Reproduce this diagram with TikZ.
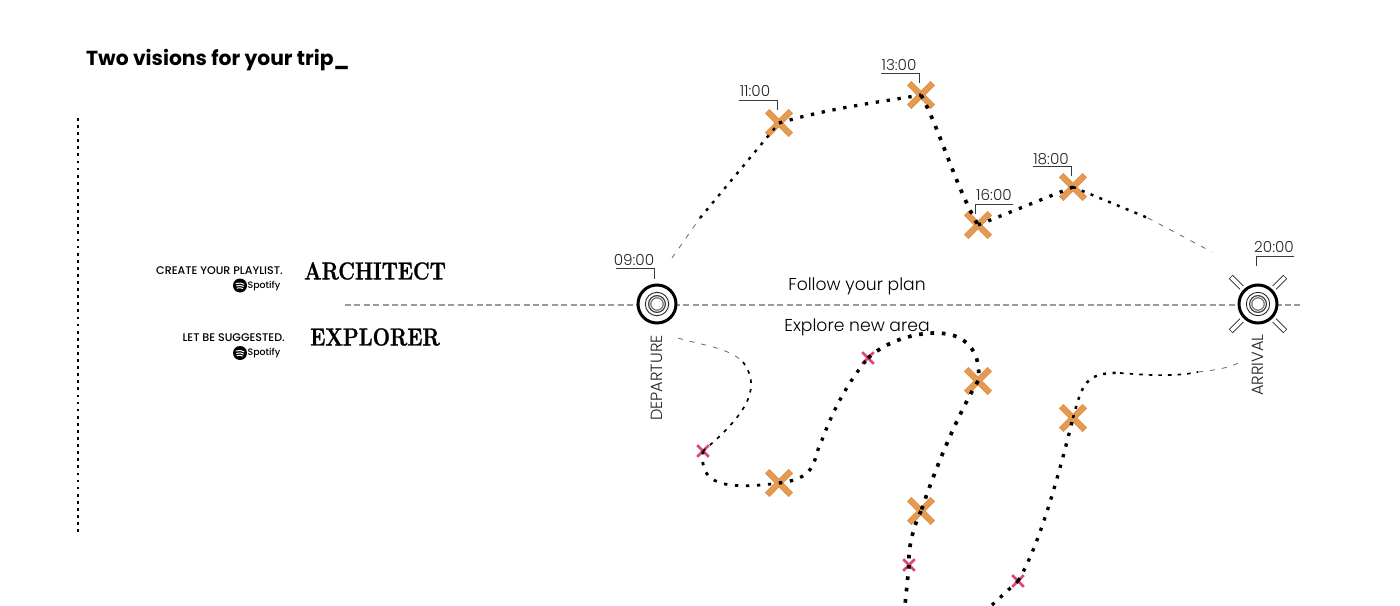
\documentclass[tikz,border=0pt]{standalone}
\usepackage{fontspec}
\newfontfamily\pop{Poppins}
\newfontfamily\popl{Poppins Light}
\newfontfamily\popm{Poppins Medium}
\newfontfamily\didone[BoldFeatures={FakeBold=1.2}]{Latin Modern Roman}
\usetikzlibrary{calc}
\definecolor{orangex}{HTML}{E59A52}
\definecolor{orangeedge}{HTML}{D98A3C}
\definecolor{pinkx}{HTML}{E0437C}
\definecolor{guide}{HTML}{9A9A9A}
\definecolor{tick}{HTML}{3A3A3A}
\tikzset{
  x=1pt,y=-1pt,
  thin route/.style={draw=black!60,line width=.8pt,dash pattern=on 5pt off 7pt},
  mid route/.style={draw=black,line width=1.7pt,dash pattern=on 3.6pt off 6pt},
  bold route/.style={draw=black,line width=3.3pt,dash pattern=on 3.3pt off 7.7pt},
  heavy route/.style={draw=black,line width=3.7pt,dash pattern=on 3.7pt off 7.7pt},
  timeline/.style={draw=tick,line width=.9pt},
  timetext/.style={font=\popl\fontsize{15.2}{16}\selectfont,text=black!85,inner sep=0pt},
  maintext/.style={font=\popl\fontsize{17.2}{18}\selectfont,inner sep=0pt},
  sidetext/.style={font=\popl\fontsize{16.2}{17}\selectfont,text=black!85,rotate=90,inner sep=0pt},
  captext/.style={font=\popm\fontsize{11.1}{12}\selectfont,anchor=east,inner sep=0pt},
  bigtext/.style={font=\didone\bfseries\fontsize{24.5}{26}\selectfont,inner sep=0pt},
  spotname/.style={font=\popm\fontsize{9.4}{10}\selectfont,anchor=west,inner sep=0pt},
}
\newcommand{\stopx}[2]{% orange cross named #1
  \coordinate (#1) at #2;
  \draw[orangeedge,line width=6.2pt] ($(#1)+(-11.8,-11.8)$)--($(#1)+(11.8,11.8)$) ($(#1)+(-11.8,11.8)$)--($(#1)+(11.8,-11.8)$);
  \draw[orangex,line width=5pt] ($(#1)+(-11.4,-11.4)$)--($(#1)+(11.4,11.4)$) ($(#1)+(-11.4,11.4)$)--($(#1)+(11.4,-11.4)$);
}
\newcommand{\pinkx}[2]{%
  \coordinate (#1) at #2;
  \draw[pinkx,line width=2.6pt] ($(#1)+(-5.8,-5.8)$)--($(#1)+(5.8,5.8)$) ($(#1)+(-5.8,5.8)$)--($(#1)+(5.8,-5.8)$);
}
\newcommand{\hub}[2]{%
  \node[circle,draw=black,fill=white,line width=3pt,minimum size=38pt,inner sep=0pt] (#1) at #2 {};
  \draw[black!85,line width=.9pt] (#1.center) circle (11.7);
  \draw[black!75,line width=1.2pt] (#1.center) circle (8.4);
  \draw[black!50,line width=1.3pt] (#1.center) circle (6.2);
}
\newcommand{\spot}[2]{%
  \node[circle,fill=black,minimum size=14pt,inner sep=0pt] (#1) at #2 {};
  \draw[white,line width=1pt,line cap=round]
    ($(#1.center)+(-4,-2)$) .. controls ($(#1.center)+(-1,-3)$) and ($(#1.center)+(2,-2.6)$) .. ($(#1.center)+(4,-1.2)$)
    ($(#1.center)+(-3.5,.4)$) .. controls ($(#1.center)+(-1,-.4)$) and ($(#1.center)+(1.5,-.2)$) .. ($(#1.center)+(3.4,.9)$)
    ($(#1.center)+(-3,2.6)$) .. controls ($(#1.center)+(-1,2)$) and ($(#1.center)+(1,2.2)$) .. ($(#1.center)+(2.8,3)$);
  \node[spotname] at ($(#1.center)+(7.4,.5)$) {Spotify};
}
\begin{document}
\begin{tikzpicture}
\useasboundingbox (0,0) rectangle (1400,605);
\clip (0,0) rectangle (1400,605);
\fill[white] (0,0) rectangle (1400,605);

% title
\node[font=\pop\bfseries\fontsize{20.3}{22}\selectfont,anchor=west,inner sep=0pt] (title) at (86,60) {Two visions for your trip\_};

% left rule
\coordinate (ruleT) at (78,118);
\coordinate (ruleB) at (78,533);
\draw[black,line width=2.8pt,dash pattern=on 2.8pt off 4.29pt] (ruleT)--(ruleB);

% main guide
\coordinate (gL) at (345,305);
\coordinate (gR) at (1301,305);
\draw[guide,line width=1.4pt,dash pattern=on 6pt off 3.4pt] (gL)--(gR);

% way points
\coordinate (tS) at (672,258);
\coordinate (t0) at (700,218);
\coordinate (t5) at (1148,218);
\coordinate (tE) at (1212,252);
\stopx{a}{(779,123)}
\stopx{b}{(921,95)}
\stopx{c}{(978,225)}
\stopx{d}{(1073,187)}
\stopx{e}{(779,483)}
\stopx{f}{(978,381)}
\stopx{g}{(921,511)}
\stopx{h}{(1073,418)}
\pinkx{p}{(703,451)}
\pinkx{q}{(868,358)}
\pinkx{r}{(909,565)}
\pinkx{s}{(1018,581)}

% upper route
\draw[thin route] (tS)--(t0);
\draw[mid route,line width=2.4pt,dash pattern=on 3pt off 6.5pt] (t0)--(a);
\draw[bold route] (a) .. controls (830,108) and (880,102) .. (b);
\draw[heavy route] (b) .. controls (940,130) and (955,185) .. (c);
\draw[bold route] (c)--(d);
\draw[mid route,line width=2.5pt,dash pattern=on 3pt off 6.5pt] (d)--(t5);
\draw[thin route] (t5)--(tE);

% lower route
\coordinate (lS) at (678,338);
\coordinate (l1) at (743,362);
\draw[thin route] (lS) .. controls (700,345) and (728,347) .. (l1);
\draw[mid route] (l1) .. controls (760,385) and (752,410) .. (p);
\draw[bold route,line width=2.8pt] (p) .. controls (700,478) and (712,492) .. (e);
\draw[bold route] (e) .. controls (820,478) and (812,458) .. (822,440)
   .. controls (835,405) and (850,380) .. (q);
\draw[heavy route] (q) .. controls (890,338) and (925,330) .. (947,334)
   .. controls (968,337) and (982,355) .. (f);
\draw[heavy route] (f) .. controls (955,420) and (935,470) .. (g);
\draw[heavy route] (g) .. controls (912,530) and (908,550) .. (r);
\coordinate (lB) at (905,605);
\draw[heavy route] (r)--(lB);
\coordinate (lC) at (992,605);
\draw[bold route] (lC)--(s);
\draw[bold route] (s) .. controls (1040,545) and (1060,470) .. (h);
\coordinate (l2) at (1120,373);
\coordinate (l3) at (1198,372);
\coordinate (lE) at (1240,362);
\draw[mid route,line width=2.5pt,dash pattern=on 3pt off 6.5pt] (h) .. controls (1082,385) and (1085,372) .. (l2);
\draw[mid route] (l2) .. controls (1145,375) and (1175,377) .. (l3);
\draw[thin route] (l3) .. controls (1215,370) and (1230,368) .. (lE);

% arrival rays
\foreach \ang in {45,135,225,315}{
  \draw[black!85,line width=5.4pt] ($(1258,304)+(\ang:23)$)--($(1258,304)+(\ang:38.5)$);
  \draw[white,line width=3.6pt] ($(1258,304)+(\ang:22)$)--($(1258,304)+(\ang:37.7)$);
}
\hub{dep}{(657,304)}
\hub{arr}{(1258,304)}

% times
\node[timetext] (n9) at (634,260) {09:00};
\node[timetext] (n11) at (755,91) {11:00};
\node[timetext] (n13) at (899,65) {13:00};
\node[timetext] (n16) at (994,195) {16:00};
\node[timetext] (n18) at (1051,159) {18:00};
\node[timetext] (n20) at (1274,247) {20:00};
\draw[timeline] (616,268)--(654,268)--(654,279);
\draw[timeline] (739,100)--(777,100)--(777,110);
\draw[timeline] (881,73)--(919,73)--(919,83);
\draw[timeline] (1013,204)--(975,204)--(975,214);
\draw[timeline] (1033,166)--(1071,166)--(1071,176);
\draw[timeline] (1294,256)--(1256,256)--(1256,266);

% labels
\node[sidetext] (ldep) at (657,378) {DEPARTURE};
\node[sidetext] (larr) at (1258,365) {ARRIVAL};
\node[maintext] (plan) at (857,286) {Follow your plan};
\node[maintext] (area) at (857,327) {Explore new area};

% left texts
\node[captext] (c1) at (283,270.5) {CREATE YOUR PLAYLIST.};
\node[captext] (c2) at (285,337.5) {LET BE SUGGESTED.};
\node[bigtext] (arch) at (375,271) {\scalebox{.84}[1]{ARCHITECT}};
\node[bigtext] (expl) at (375,337) {\scalebox{.84}[1]{EXPLORER}};
\spot{s1}{(240,285.5)}
\spot{s2}{(240,353)}
\end{tikzpicture}
\end{document}
